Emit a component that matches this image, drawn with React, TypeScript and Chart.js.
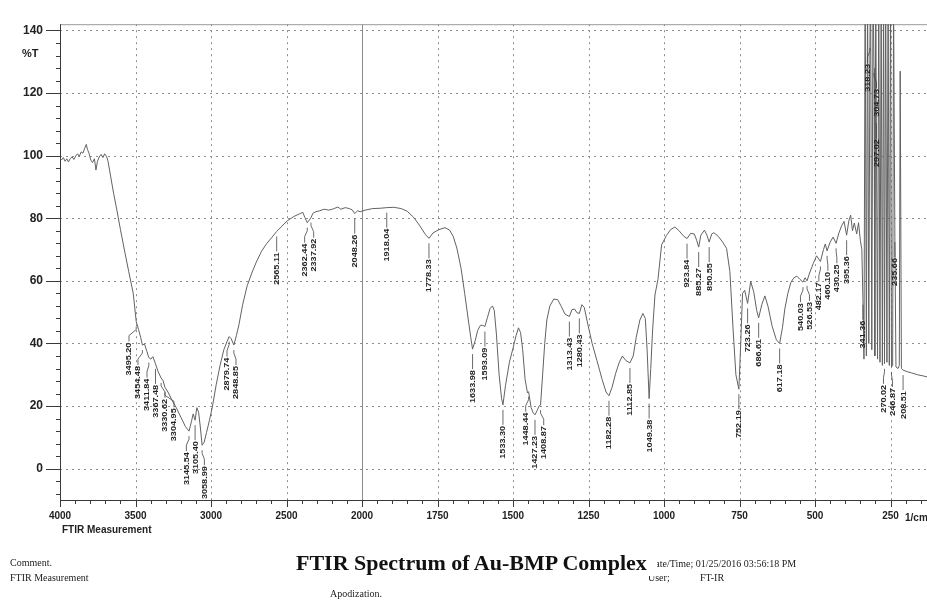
import React, { useEffect, useRef } from "react";
import { Chart, registerables } from "chart.js";

Chart.register(...registerables);

// Axis tick labels: 500 1/cm per division down to 2000, then 250 1/cm per division
const xTickLabels = [4000, 3500, 3000, 2500, 2000, 1750, 1500, 1250, 1000, 750, 500, 250];
const yTickValues = [0, 20, 40, 60, 80, 100, 120, 140];

// Spectrum: wavenumber (1/cm) and transmittance (%T)
const wavenumbers = [
  4000, 3990, 3978, 3966, 3955, 3944, 3932, 3920, 3908, 3896, 3884, 3872, 3860, 3848, 3836, 3826, 3818, 3808,
  3796, 3785, 3772, 3762, 3752, 3740, 3728, 3716, 3704, 3692, 3682, 3665, 3645, 3625, 3600, 3570, 3545, 3515,
  3495.2, 3480, 3466, 3454.48, 3440, 3425, 3411.84, 3398, 3385, 3367.48, 3350, 3330.62, 3318, 3304.95, 3285,
  3260, 3230, 3200, 3170, 3145.54, 3130, 3118, 3105.4, 3094, 3082, 3070, 3058.99, 3045, 3030, 3010, 2990, 2965,
  2940, 2915, 2895, 2879.74, 2866, 2848.85, 2832, 2815, 2790, 2760, 2730, 2700, 2665, 2630, 2595, 2565.11, 2530,
  2495, 2450, 2415, 2392, 2378, 2362.44, 2350, 2337.92, 2325, 2305, 2280, 2250, 2220, 2190, 2160, 2140, 2110,
  2085, 2065, 2048.26, 2030, 2012, 1990, 1965, 1940, 1918.04, 1895, 1870, 1850, 1830, 1810, 1790, 1778.33, 1765,
  1745, 1725, 1710, 1698, 1686, 1672, 1660, 1648, 1640, 1633.98, 1625, 1617, 1608, 1600, 1593.09, 1585, 1576,
  1568, 1562, 1555, 1546, 1538, 1533.3, 1525, 1512, 1500, 1490, 1482, 1475, 1468, 1460, 1452, 1448.44, 1440,
  1433, 1427.23, 1420, 1414, 1408.87, 1402, 1395, 1388, 1378, 1365, 1352, 1340, 1328, 1313.43, 1305, 1296, 1288,
  1280.43, 1272, 1264, 1252, 1238, 1222, 1205, 1192, 1182.28, 1172, 1160, 1148, 1138, 1126, 1112.85, 1102, 1092,
  1080, 1070, 1062, 1056, 1049.38, 1044, 1038, 1030, 1020, 1008, 992, 978, 964, 950, 936, 923.84, 912, 900, 892,
  885.27, 878, 866, 858, 850.55, 842, 835, 820, 806, 793, 782, 771, 762, 752.19, 746, 740, 733, 723.26, 713, 703,
  693, 686.61, 676, 666, 656, 642, 628, 617.18, 608, 600, 590, 580, 570, 560, 550, 540.03, 533, 526.53, 518, 506,
  495, 482.17, 472, 466, 460.1, 450, 440, 430.25, 422, 412, 404, 395.36, 388, 382, 376, 370, 362, 356, 350, 345,
  341.36, 338, 334, 330, 326, 322, 318.23, 316, 312, 308, 304.73, 302, 299, 297.02, 293, 289, 285, 281, 277, 273,
  270.02, 266, 262, 258, 254, 250, 246.87, 243, 240, 235.66, 232, 225, 221, 218, 214, 208.51, 195, 180, 160, 140,
  125,
];
const transmittance = [
  99.2, 98.6, 99.4, 98.2, 99.0, 98.0, 99.1, 99.6, 98.8, 99.9, 100.6, 99.8, 101.2, 100.8, 102.4, 103.6, 102.0, 100.8,
  98.6, 97.8, 99.0, 95.4, 98.2, 99.6, 100.4, 99.4, 100.6, 99.8, 98.2, 93.5, 88.0, 83.0, 76.5, 69.0, 63.0, 56.0,
  47.0, 44.5, 42.0, 39.5, 39.8, 37.5, 35.5, 35.0, 35.8, 33.5, 31.0, 29.0, 28.2, 26.0, 24.5,
  22.0, 19.5, 16.5, 13.5, 12.0, 15.0, 17.5, 15.5, 19.5, 18.0, 13.0, 7.5, 8.5, 11.5, 15.5, 20.0, 27.0,
  33.0, 38.0, 40.5, 42.2, 41.5, 39.5, 42.5, 46.0, 52.5, 58.5, 62.5, 66.0, 69.5, 72.0, 74.0, 75.8, 77.5,
  79.2, 80.6, 81.4, 81.9, 80.2, 78.6, 79.4, 80.2, 81.6, 82.1, 82.4, 82.9, 82.6, 83.0, 83.6, 82.9, 83.4,
  83.1, 82.7, 81.5, 82.4, 82.1, 82.6, 83.1, 83.2, 83.4, 83.5, 83.1, 82.2, 80.4, 77.8, 74.8, 73.6, 75.3,
  76.4, 77.0, 76.2, 74.2, 70.5, 64.0, 56.0, 47.5, 42.0, 38.2, 41.0, 44.2, 45.8, 45.8, 45.4, 48.2, 51.2,
  52.0, 50.5, 43.0, 30.0, 22.5, 20.4, 26.5, 34.0, 38.5, 42.5, 45.0, 43.5, 38.0, 28.5, 24.2, 24.6, 19.5,
  17.8, 17.2, 18.6, 20.0, 20.3, 30.0, 40.0, 47.5, 52.0, 54.2, 54.0, 51.8, 49.4, 48.6, 50.8, 51.0, 49.8,
  49.6, 52.4, 51.5, 46.0, 40.0, 34.5, 28.5, 24.5, 23.3, 26.0, 30.5, 34.0, 36.0, 34.5, 33.8, 36.0, 42.0,
  47.5, 49.6, 48.0, 38.0, 22.4, 32.0, 44.0, 55.5, 60.5, 71.5, 74.5, 76.4, 77.2, 76.0, 74.4, 73.5, 75.2, 75.0, 73.0,
  70.8, 74.6, 76.2, 74.6, 72.4, 75.0, 75.4, 74.2, 72.4, 70.4, 63.0, 44.0, 30.0, 25.4, 40.0, 56.0, 57.0, 52.8, 59.8, 56.5,
  50.5, 48.2, 52.5, 55.2, 52.0, 45.5, 41.2, 40.0, 45.0, 51.0, 56.0, 59.5, 61.0, 61.5, 60.5, 59.6, 61.0, 60.0, 62.5, 65.5,
  68.0, 66.2, 70.0, 71.8, 69.6, 72.4, 74.0, 72.0, 75.0, 77.6, 79.0, 74.6, 79.2, 81.0, 76.0, 78.5, 75.0, 78.6, 73.0, 70.0,
  54.0, 35.0, 155, 36.0, 155, 40.0, 136, 155, 38.0, 155, 128, 36.0, 155, 112, 35.0, 155, 34.0, 155, 33.0, 155,
  33.5, 155, 34.0, 155, 33.0, 155, 32.5, 33.0, 150, 74.0, 32.5, 32.0, 33.0, 127, 32.0, 31.5, 31.0, 30.6, 30.0, 29.6,
  29.2,
];

// Wavenumbers that carry a peak label
const peakWavenumbers = [
  3495.2, 3454.48, 3411.84, 3367.48, 3330.62, 3304.95, 3145.54, 3105.4, 3058.99, 2879.74, 2848.85, 2565.11,
  2362.44, 2337.92, 2048.26, 1918.04, 1778.33, 1633.98, 1593.09, 1533.3, 1448.44, 1427.23, 1408.87, 1313.43,
  1280.43, 1182.28, 1112.85, 1049.38, 923.84, 885.27, 850.55, 752.19, 723.26, 686.61, 617.18, 540.03, 526.53,
  482.17, 460.1, 430.25, 395.36, 341.36, 318.23, 304.73, 297.02, 270.02, 246.87, 235.66, 208.51,
];

const Y_MIN = -10;
const Y_MAX = 142;
const X_MAX = 11.483;

// One axis unit per tick label; the scale is stretched 2x below 2000 1/cm
function toAxis(wn: number): number {
  return wn >= 2000 ? (4000 - wn) / 500 : 4 + (2000 - wn) / 250;
}

const framePlugin = {
  id: "frame",
  beforeDatasetsDraw(chart: any) {
    const { ctx, chartArea: a, scales } = chart;
    const x = scales.x;
    const y = scales.y;
    ctx.save();
    ctx.lineWidth = 1;

    // dotted grid
    ctx.strokeStyle = "#8d8d8d";
    ctx.setLineDash([2, 4]);
    yTickValues.forEach((v) => {
      const py = Math.round(y.getPixelForValue(v)) + 0.5;
      ctx.beginPath();
      ctx.moveTo(a.left, py);
      ctx.lineTo(a.right, py);
      ctx.stroke();
    });
    xTickLabels.forEach((_, i) => {
      if (i === 0 || i === 4) return;
      const px = Math.round(x.getPixelForValue(i)) + 0.5;
      ctx.beginPath();
      ctx.moveTo(px, a.top);
      ctx.lineTo(px, a.bottom);
      ctx.stroke();
    });
    ctx.setLineDash([]);

    // solid line where the scale changes
    const x2000 = Math.round(x.getPixelForValue(toAxis(2000))) + 0.5;
    ctx.strokeStyle = "#8a8a8a";
    ctx.beginPath();
    ctx.moveTo(x2000, a.top);
    ctx.lineTo(x2000, a.bottom);
    ctx.stroke();

    // frame
    ctx.strokeStyle = "#9a9a9a";
    ctx.beginPath();
    ctx.moveTo(a.left, a.top + 0.5);
    ctx.lineTo(a.right, a.top + 0.5);
    ctx.stroke();
    ctx.strokeStyle = "#3a3a3a";
    ctx.beginPath();
    ctx.moveTo(a.left + 0.5, a.top);
    ctx.lineTo(a.left + 0.5, a.bottom);
    ctx.moveTo(a.left, a.bottom + 0.5);
    ctx.lineTo(a.right, a.bottom + 0.5);
    ctx.stroke();

    // y tick marks (major every 20, minor every 4)
    for (let v = -8; v <= 140; v += 4) {
      const py = Math.round(y.getPixelForValue(v)) + 0.5;
      const len = v % 20 === 0 ? 14 : 4;
      ctx.beginPath();
      ctx.moveTo(a.left - len, py);
      ctx.lineTo(a.left, py);
      ctx.stroke();
    }
    // x tick marks (major at labels, minor at fifths)
    const n = Math.floor(X_MAX * 5);
    for (let i = 0; i <= n; i++) {
      const px = Math.round(x.getPixelForValue(i / 5)) + 0.5;
      const len = i % 5 === 0 ? 7 : 4;
      ctx.beginPath();
      ctx.moveTo(px, a.bottom);
      ctx.lineTo(px, a.bottom + len);
      ctx.stroke();
    }
    ctx.restore();
  },
};

type PeakItem = { xc: number; yc: number; text: string; len: number; top: number; bottom: number; x: number };

const peakLabelPlugin = {
  id: "peakLabels",
  afterDatasetsDraw(chart: any) {
    const { ctx, chartArea: a, scales } = chart;
    const x = scales.x;
    const y = scales.y;
    const stretch = 1.3;
    const gap = 9;
    ctx.save();
    ctx.font = "bold 7px 'Liberation Sans', Arial, sans-serif";

    const items: PeakItem[] = peakWavenumbers
      .map((wn) => {
        const i = wavenumbers.indexOf(wn);
        const t = Math.min(transmittance[i], Y_MAX);
        const xc = x.getPixelForValue(toAxis(wn));
        const yc = Math.max(y.getPixelForValue(t), a.top);
        const text = wn.toFixed(2);
        const len = ctx.measureText(text).width * stretch;
        const top = yc + 21;
        return { xc, yc, text, len, top, bottom: top + len, x: xc };
      })
      .sort((p, q) => p.xc - q.xc);

    // spread labels that would collide, keeping each group centred on its peaks
    const place = (c: PeakItem[]) => {
      const mean = c.reduce((s, m) => s + m.xc, 0) / c.length;
      const start = mean - ((c.length - 1) * gap) / 2;
      c.forEach((m, k) => (m.x = start + k * gap));
    };
    const clusters: PeakItem[][] = items.map((it) => [it]);
    let merged = true;
    while (merged) {
      merged = false;
      for (let k = 1; k < clusters.length; k++) {
        const prev = clusters[k - 1];
        const cur = clusters[k];
        const la = prev[prev.length - 1];
        const fb = cur[0];
        const vOverlap = la.top < fb.bottom && fb.top < la.bottom;
        if (vOverlap && fb.x - la.x < gap) {
          prev.push(...cur);
          place(prev);
          clusters.splice(k, 1);
          merged = true;
          break;
        }
      }
    }

    ctx.strokeStyle = "#444";
    ctx.lineWidth = 0.8;
    ctx.fillStyle = "#222";
    items.forEach((m) => {
      ctx.beginPath();
      ctx.moveTo(m.xc, m.yc + 5);
      if (Math.abs(m.x - m.xc) < 0.6) {
        ctx.lineTo(m.xc, m.top - 1);
      } else {
        ctx.lineTo(m.xc, m.yc + 8);
        ctx.lineTo(m.x, m.yc + 14);
        ctx.lineTo(m.x, m.top - 1);
      }
      ctx.stroke();
      ctx.save();
      ctx.translate(m.x, m.top);
      ctx.rotate(-Math.PI / 2);
      ctx.scale(stretch, 1);
      ctx.textAlign = "right";
      ctx.textBaseline = "middle";
      ctx.fillText(m.text, 0, 0.5);
      ctx.restore();
    });
    ctx.restore();
  },
};

const sans = "'Liberation Sans', Arial, sans-serif";
const serif = "'Liberation Serif', 'Times New Roman', serif";

const abs = (left: number, top: number, extra: React.CSSProperties = {}): React.CSSProperties => ({
  position: "absolute",
  left,
  top,
  whiteSpace: "nowrap",
  lineHeight: 1,
  color: "#222",
  ...extra,
});

export default function App() {
  const canvasRef = useRef<HTMLCanvasElement | null>(null);

  useEffect(() => {
    const canvas = canvasRef.current;
    if (!canvas) return;
    const points = wavenumbers.map((wn, i) => ({ x: toAxis(wn), y: transmittance[i] }));
    const chart = new Chart(canvas, {
      type: "line",
      data: {
        datasets: [
          {
            data: points,
            borderColor: "#626262",
            borderWidth: 1,
            pointRadius: 0,
            tension: 0,
            fill: false,
            clip: 0,
          } as any,
        ],
      },
      options: {
        responsive: false,
        animation: false,
        events: [],
        layout: { padding: { top: 13, left: 0, right: 0, bottom: 0 } },
        plugins: {
          legend: { display: false },
          tooltip: { enabled: false },
          title: { display: false },
        },
        scales: {
          x: {
            type: "linear",
            min: 0,
            max: X_MAX,
            afterBuildTicks: (s: any) => {
              s.ticks = xTickLabels.map((_, i) => ({ value: i }));
            },
            afterFit: (s: any) => {
              s.height = 101;
            },
            ticks: {
              callback: (v: any) => (xTickLabels[v] !== undefined ? String(xTickLabels[v]) : ""),
              font: { family: sans, size: 10, weight: "bold" },
              color: "#222",
              padding: 10,
              maxRotation: 0,
              autoSkip: false,
            },
            grid: { display: false, drawTicks: false },
            border: { display: false },
          },
          y: {
            type: "linear",
            min: Y_MIN,
            max: Y_MAX,
            afterBuildTicks: (s: any) => {
              s.ticks = yTickValues.map((v) => ({ value: v }));
            },
            afterFit: (s: any) => {
              s.width = 60;
            },
            ticks: {
              font: { family: sans, size: 12, weight: "bold" },
              color: "#222",
              padding: 17,
            },
            grid: { display: false, drawTicks: false },
            border: { display: false },
          },
        },
      },
      plugins: [framePlugin, peakLabelPlugin],
    } as any);
    return () => chart.destroy();
  }, []);

  return (
    <div style={{ position: "fixed", left: 0, top: 0, width: 927, height: 601, background: "#fff", overflow: "hidden" }}>
      <canvas ref={canvasRef} width={927} height={601} style={{ position: "absolute", left: 0, top: 0, width: 927, height: 601 }} />
      <div style={abs(22, 47, { font: `bold 11px ${sans}` })}>%T</div>
      <div style={abs(62, 524, { font: `bold 10px ${sans}` })}>FTIR Measurement</div>
      <div style={abs(905, 512, { font: `bold 10px ${sans}` })}>1/cm</div>

      <div style={abs(10, 557, { font: `10px ${serif}` })}>Comment.</div>
      <div style={abs(10, 572, { font: `10px ${serif}` })}>FTIR Measurement</div>
      <div style={abs(330, 588, { font: `10px ${serif}` })}>Apodization.</div>
      <div style={abs(648, 558, { font: `10px ${serif}` })}>Date/Time; 01/25/2016 03:56:18 PM</div>
      <div style={abs(648, 572, { font: `10px ${serif}` })}>User;</div>
      <div style={abs(700, 572, { font: `10px ${serif}` })}>FT-IR</div>
      <div style={abs(296, 550, { font: `bold 22px ${serif}`, background: "#fff", paddingRight: 10, color: "#111" })}>
        FTIR Spectrum of Au-BMP Complex
      </div>
    </div>
  );
}
